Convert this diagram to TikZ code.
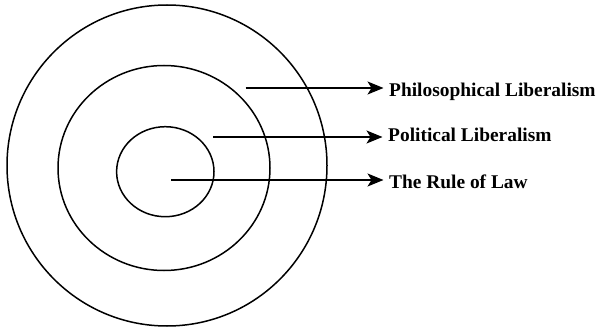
\documentclass[tikz,border=0pt]{standalone}
\usepackage{fontspec}
\setmainfont{Liberation Serif}
\usetikzlibrary{arrows.meta}
\begin{document}
\begin{tikzpicture}[x=1pt,y=1pt,
  ring/.style={line width=1.5pt},
  pointer/.style={line width=1.5pt,-{Stealth[length=16pt,width=13pt,inset=4pt]},shorten >=5.5pt},
  lbl/.style={anchor=base west,inner sep=0pt,font=\bfseries\fontsize{19.4}{22}\selectfont}]
\useasboundingbox (0,0) rectangle (597,327);
\draw[ring] (167,161.5) ellipse [x radius=160, y radius=160.5];
\draw[ring] (164,159) ellipse [x radius=106, y radius=102.5];
\draw[ring] (165.3,155.3) ellipse [x radius=48.7, y radius=45];
\coordinate (s1) at (245.7,239);
\coordinate (s2) at (213.3,190);
\coordinate (s3) at (171,147);
\node[lbl] (l1) at (389,230.3) {Philosophical Liberalism};
\node[lbl] (l2) at (388,185.3) {Political Liberalism};
\node[lbl] (l3) at (389,138.7) {The Rule of Law};
\draw[pointer] (s1) -- (s1 -| l1.west);
\draw[pointer] (s2) -- (s2 -| l2.west);
\draw[pointer] (s3) -- (s3 -| l3.west);
\end{tikzpicture}
\end{document}
